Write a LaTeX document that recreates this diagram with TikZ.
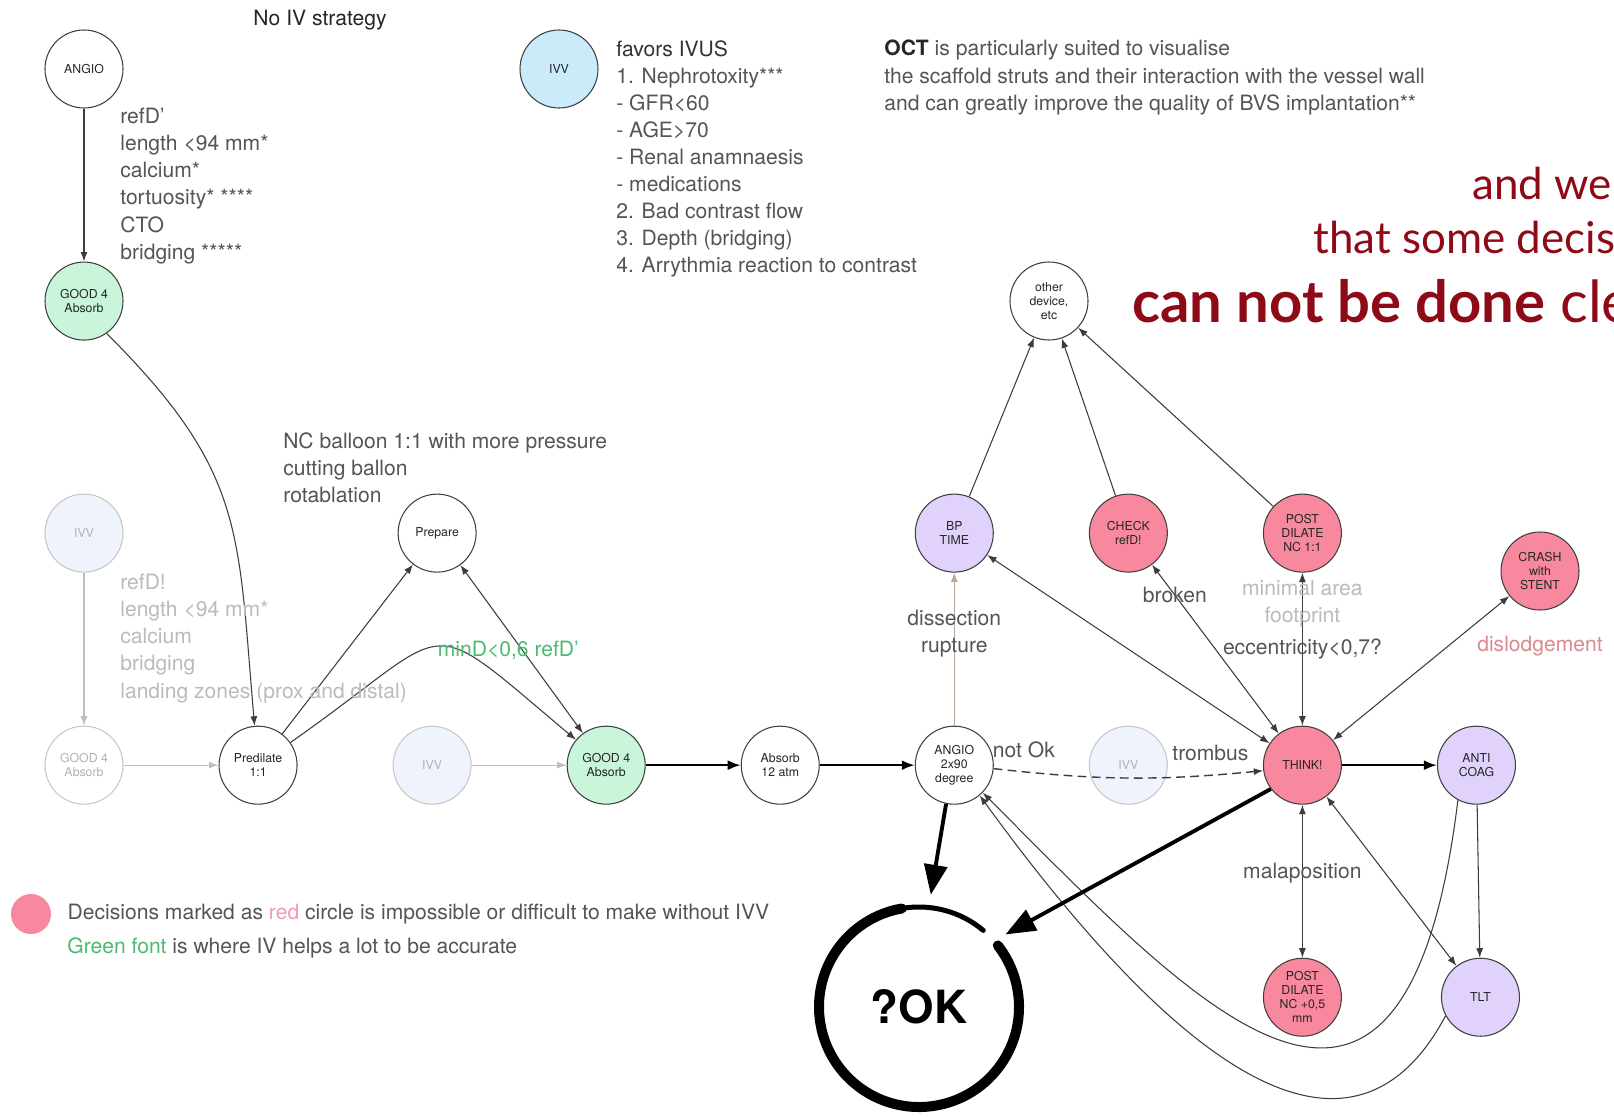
\documentclass[tikz,border=0pt]{standalone}
\usepackage{fontspec}
\setmainfont{TeX Gyre Heros}
\newfontfamily\gillfont{Lato}
\usepackage{xcolor}
\usetikzlibrary{arrows.meta,positioning}

\definecolor{mint}{HTML}{C9F5DA}
\definecolor{ivvblue}{HTML}{CCEBFA}
\definecolor{ivvghost}{HTML}{EEF3FC}
\definecolor{decisionred}{HTML}{F7889E}
\definecolor{lilac}{HTML}{E0D2FA}
\definecolor{notegray}{HTML}{555555}
\definecolor{ghostgray}{HTML}{BBBBBB}
\definecolor{edgegray}{HTML}{3C3C3C}
\definecolor{darkred}{HTML}{8E0A16}
\definecolor{noteGreen}{HTML}{4DBA6F}
\definecolor{tanline}{HTML}{B8A698}
\definecolor{dislodge}{HTML}{D98A8E}
\definecolor{legendred}{HTML}{F49AAE}

\begin{document}
\begin{tikzpicture}[
    x=0.2mm, y=-0.2mm,
    >={Latex[length=1.9mm,width=1.4mm]},
    font=\fontsize{12}{15.4}\selectfont,
    state/.style={circle,draw=black!75,line width=0.6pt,minimum size=15.6mm,inner sep=0pt,align=center,text=black!85,font=\fontsize{7}{8}\selectfont},
    ghost/.style={state,draw=black!22,text=black!30},
    goodabs/.style={state,fill=mint},
    ivv/.style={state,fill=ivvblue},
    ghostivv/.style={ghost,fill=ivvghost},
    decide/.style={state,fill=decisionred},
    drug/.style={state,fill=lilac},
    note/.style={anchor=north west,align=left,inner sep=0pt,text=notegray},
    ghostnote/.style={note,text=ghostgray},
    edge/.style={->,draw=edgegray,line width=0.6pt},
    twoway/.style={<->,draw=edgegray,line width=0.6pt},
    ghostedge/.style={->,draw=black!25,line width=0.6pt},
    heavy/.style={-{Latex[length=2.6mm,width=2mm]},draw=black,line width=1.3pt},
    okarrow/.style={-{Triangle[length=6mm,width=4.6mm]},draw=black,line width=2.2pt},
    tanedge/.style={->,draw=tanline,line width=0.6pt},
    notok/.style={->,draw=edgegray,line width=0.8pt,dash pattern=on 5pt off 3pt},
    lbl/.style={inner sep=1pt,text=notegray},
    slogan/.style={anchor=base west,inner sep=0pt,text=darkred,font=\gillfont\fontsize{25}{30}\selectfont},
    node distance=30.6mm and 19mm,
]
% ---- canvas ----
\fill[white] (0,0) rectangle (1614,1117);
\useasboundingbox (0,0) rectangle (1614,1117);
\clip (0,0) rectangle (1614,1117);

% ---- left column ----
\node[state] (angio) at (84,69) {ANGIO};
\node[goodabs,below=of angio] (gAbsTop) {GOOD 4\\Absorb};
\node[ghostivv,below=of gAbsTop] (ivvLeft) {IVV};
\node[ghost,below=of ivvLeft] (gAbsLeft) {GOOD 4\\Absorb};

% ---- main row ----
\node[state,right=of gAbsLeft] (pred) {Predilate\\1:1};
\node[ghostivv,right=of pred] (ivvMid) {IVV};
\node[goodabs,right=of ivvMid] (gAbsMid) {GOOD 4\\Absorb};
\node[state,right=of gAbsMid] (absorb) {Absorb\\12 atm};
\node[state,right=of absorb] (angioTwo) {ANGIO\\2x90\\degree};
\node[ghostivv,right=of angioTwo] (ivvRight) {IVV};
\node[decide,right=of ivvRight] (think) {THINK!};
\node[drug,right=of think] (anticoag) {ANTI\\COAG};

% ---- above / below the main row ----
\node[state,above=of ivvMid,xshift=1mm] (prepare) {Prepare};
\node[drug,above=of angioTwo] (bp) {BP\\TIME};
\node[decide,above=of ivvRight] (check) {CHECK\\refD!};
\node[decide,above=of think] (postA) {POST\\DILATE\\NC 1:1};
\node[state] (other) at (1049,301) {other\\device,\\etc};
\node[decide] (crash) at (1540,571) {CRASH\\with\\STENT};
\node[decide,below=of think] (postB) {POST\\DILATE\\NC +0,5\\mm};
\node[drug,below=of anticoag,xshift=0.8mm] (tlt) {TLT};
\node[ivv] (ivvTop) at (559,69) {IVV};
\node[circle,minimum size=45mm,inner sep=0pt,font=\fontsize{26}{30}\selectfont\bfseries] (ok) at (919,1007) {?OK};

% brush ring round ?OK
\draw[line width=1mm,line cap=round] (ok.center) ++(50:20mm) arc[start angle=50,end angle=100,radius=20mm];
\draw[line width=2mm,line cap=round] (ok.center) ++(100:20mm) arc[start angle=100,end angle=398,radius=20mm];

% ---- no-IV strategy ----
\draw[edge] (angio) -- (gAbsTop);
\draw[edge] (gAbsTop.-55) to[out=-45,in=95,looseness=1.2] (pred);
\draw[ghostedge] (ivvLeft) -- (gAbsLeft);
\draw[ghostedge] (gAbsLeft) -- (pred);
\draw[edge] (pred) -- (prepare);
\draw[twoway] (prepare) -- (gAbsMid);
\draw[edge] (pred) to[out=35,in=140,looseness=1.85]
   node[pos=0.5,anchor=west,text=noteGreen,inner sep=0pt,yshift=-0.6mm]{minD<0,6 refD'} (gAbsMid);
\draw[ghostedge] (ivvMid) -- (gAbsMid);
\draw[heavy] (gAbsMid) -- (absorb);
\draw[heavy] (absorb) -- (angioTwo);

% ---- decisions ----
\draw[tanedge] (angioTwo) -- node[lbl,align=center,pos=0.6]{dissection\\rupture} (bp);
\draw[notok] (angioTwo.-5) to[bend right=6]
   node[lbl,pos=0.1,above=2.3mm]{not Ok}
   node[lbl,pos=0.82,above=2.3mm]{trombus} (think.188);
\draw[twoway] (think) -- (bp);
\draw[twoway] (think) -- node[lbl,pos=0.82]{broken} (check);
\draw[twoway] (think) -- node[lbl,pos=0.5]{eccentricity<0,7?}
   node[lbl,pos=0.8,align=center,text=ghostgray]{minimal area\\footprint} (postA);
\draw[twoway] (think) -- (crash);
\node[below=5mm of crash,text=dislodge,inner sep=0pt] (dislodge) {dislodgement};
\draw[edge] (bp) -- (other);
\draw[edge] (check) -- (other);
\draw[edge] (postA) -- (other);
\draw[heavy] (think) -- (anticoag);
\draw[edge] (anticoag) -- (tlt);
\draw[twoway] (think) -- node[lbl,pos=0.45]{malaposition} (postB);
\draw[twoway] (think) -- (tlt);
\draw[edge] (anticoag.-118) .. controls +(-97:88mm) and +(-45:60mm) .. (angioTwo.-44);
\draw[edge] (tlt.-152) .. controls +(-118:30mm) and +(-54:88mm) .. (angioTwo.-50);

% ---- towards ?OK ----
\draw[okarrow] (angioTwo.-102) -- (ok.84);
\draw[okarrow] (think.217) -- (ok.40);

% ---- notes ----
\node[inner sep=0pt,text=black!85] (noIV) at (320,20) {No IV strategy};
\node[note] (angioNotes) at (120,108) {refD'\\length <94 mm*\\calcium*\\tortuosity* ****\\CTO\\bridging *****};
\node[note] (ivusNotes) at (616,40) {\textcolor{black!80}{favors IVUS}\\1. Nephrotoxity***\\- GFR<60\\- AGE>70\\- Renal anamnaesis\\- medications\\2. Bad contrast flow\\3. Depth (bridging)\\4. Arrythmia reaction to contrast};
\node[note] (octNotes) at (884,40) {\textcolor{black!85}{\textbf{OCT}} is particularly suited to visualise\\the scaffold struts and their interaction with the vessel wall\\and can greatly improve the quality of BVS implantation**};
\node[note] (ncNotes) at (283,432) {NC balloon 1:1 with more pressure\\cutting ballon\\rotablation};
\node[ghostnote] (ghostNotes) at (120,574) {refD!\\length <94 mm*\\calcium\\bridging\\landing zones (prox and distal)};

% ---- slogan (runs off the right edge) ----
\node[slogan] (sloganA) at (1472,199) {and we};
\node[slogan] (sloganB) at (1313,253) {that some decisi};
\node[slogan,font=\gillfont\fontsize{33}{38}\selectfont] (sloganC) at (1132,322) {\textbf{can not be done} cle};

% ---- legend ----
\node[circle,fill=decisionred,minimum size=8mm,inner sep=0pt] (legDot) at (31,914) {};
\node[right=3.2mm of legDot,inner sep=0pt,text=notegray] (legRed) {Decisions marked as \textcolor{legendred}{red} circle is impossible or difficult to make without IVV};
\node[anchor=west,inner sep=0pt,text=notegray] (legGreen) at (67,948) {\textcolor{noteGreen}{Green font} is where IV helps a lot to be accurate};
\end{tikzpicture}
\end{document}
